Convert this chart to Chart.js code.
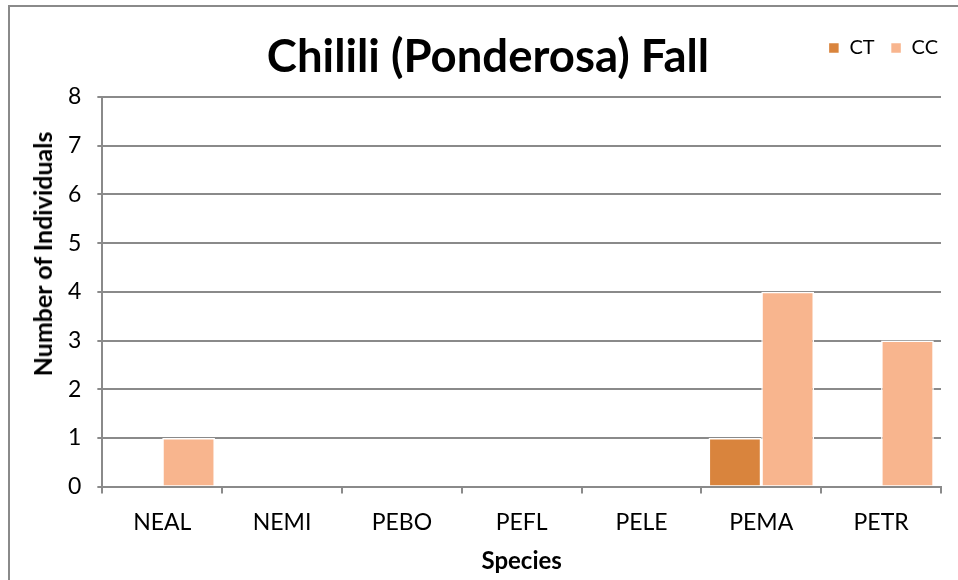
<!DOCTYPE html>
<html>
<head>
<meta charset="utf-8">
<script src="https://cdn.jsdelivr.net/npm/chart.js@4"></script>
<style>
  html, body { margin: 0; padding: 0; background: #fff; }
  #wrap { position: relative; width: 958px; height: 580px; overflow: hidden; }
  #frame {
    position: absolute; left: 8px; top: 5px; width: 1000px; height: 700px;
    border-left: 2px solid #8a8a8a; border-top: 2px solid #8a8a8a;
  }
  #title {
    position: absolute; left: 18px; width: 940px; top: 27px; text-align: center;
    font-family: Lato, sans-serif; font-weight: bold; font-size: 45.5px; color: #000;
  }
  #ytitle {
    position: absolute; left: 42px; top: 254px; transform: translate(-50%, -50%) rotate(-90deg);
    white-space: nowrap; font-family: Lato, sans-serif; font-weight: bold; font-size: 25px; color: #000;
  }
  canvas { position: absolute; left: 0; top: 0; }
</style>
</head>
<body>
<div id="wrap">
  <div id="frame"></div>
  <canvas id="chart" width="958" height="580"></canvas>
  <div id="title">Chilili (Ponderosa) Fall</div>
  <div id="ytitle">Number of Individuals</div>
</div>
<script>
const species = ["NEAL", "NEMI", "PEBO", "PEFL", "PELE", "PEMA", "PETR"];
const ctCounts = [0, 0, 0, 0, 0, 1, 0];
const ccCounts = [1, 0, 0, 0, 0, 4, 3];
const yTicks = [0, 1, 2, 3, 4, 5, 6, 7, 8];

const gridGray = "#8a8a8a";
const font = "Lato, sans-serif";

// push the plot down a bit under the legend row
const legendGap = {
  id: "legendGap",
  beforeInit(chart) {
    const fit = chart.legend.fit;
    chart.legend.fit = function () {
      fit.call(this);
      this.height += 29;
    };
  },
};

new Chart(document.getElementById("chart"), {
  type: "bar",
  data: {
    labels: species,
    datasets: [
      {
        label: "CT",
        data: ctCounts,
        backgroundColor: "#d9843d",
        borderColor: "#ffffff",
        borderWidth: 1.5,
      },
      {
        label: "CC",
        data: ccCounts,
        backgroundColor: "#f8b58e",
        borderColor: "#ffffff",
        borderWidth: 1.5,
      },
    ],
  },
  options: {
    responsive: false,
    animation: false,
    layout: { padding: { top: 22, right: 4, left: 52, bottom: 4 } },
    datasets: { bar: { categoryPercentage: 0.88, barPercentage: 1 } },
    plugins: {
      tooltip: { enabled: false },
      legend: {
        position: "top",
        align: "end",
        labels: {
          boxWidth: 11,
          boxHeight: 11,
          padding: 16,
          color: "#000",
          font: { family: font, size: 20 },
        },
      },
    },
    scales: {
      x: {
        // leave some room right of the plot, under the legend's end
        afterFit(axis) {
          axis.paddingRight = 17;
        },
        grid: {
          drawOnChartArea: false,
          drawTicks: true,
          tickLength: 7,
          color: gridGray,
          lineWidth: 2,
        },
        border: { color: gridGray, width: 2 },
        ticks: { color: "#000", padding: 15, font: { family: font, size: 23 } },
        title: {
          display: true,
          text: "Species",
          color: "#000",
          padding: { top: -4, bottom: 0 },
          font: { family: font, size: 24, weight: "bold" },
        },
      },
      y: {
        min: 0,
        max: 8,
        afterBuildTicks(axis) {
          axis.ticks = yTicks.map((v) => ({ value: v }));
        },
        grid: { color: gridGray, lineWidth: 2, tickLength: 5 },
        border: { color: gridGray, width: 2 },
        ticks: { color: "#000", padding: 16, font: { family: font, size: 23 } },
      },
    },
  },
  plugins: [legendGap],
});
</script>
</body>
</html>
